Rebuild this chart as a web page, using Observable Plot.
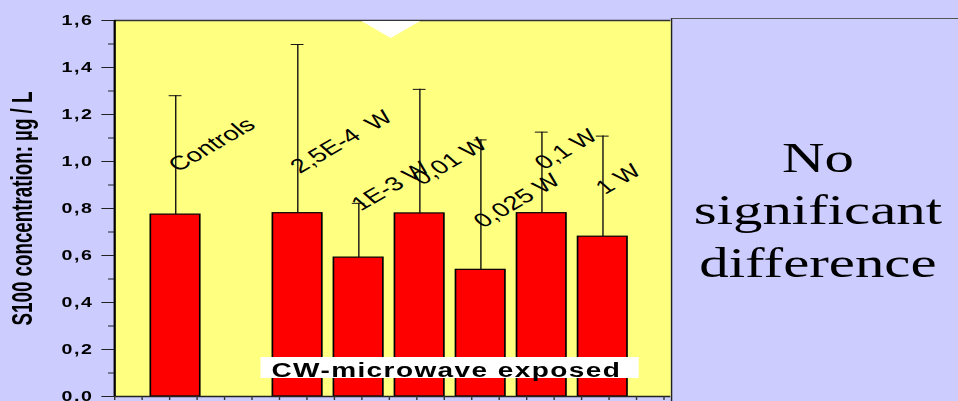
<!DOCTYPE html>
<html><head><meta charset="utf-8">
<script src="https://cdn.jsdelivr.net/npm/d3@7"></script>
<script src="https://cdn.jsdelivr.net/npm/@observablehq/plot@0.6"></script>
<style>
html,body{margin:0;padding:0;background:#ccccff;overflow:hidden;width:958px;height:401px;}
#wrap{position:relative;width:684px;height:401px;overflow:hidden;transform:scaleX(1.40058);transform-origin:0 0;font-family:Arial,"Liberation Sans",sans-serif;}
#chart{position:absolute;left:0;top:0;}
#tri{position:absolute;left:257.5px;top:21px;width:0;height:0;border-left:21.5px solid transparent;border-right:21.5px solid transparent;border-top:17px solid #fff;}
#expBox{position:absolute;left:185.7px;top:357px;width:270px;height:21px;background:#fff;}
#expText{position:absolute;left:185.7px;top:360px;width:266px;text-align:center;font-weight:bold;font-size:20px;line-height:20px;letter-spacing:1px;color:#000;white-space:nowrap;}
#panel{position:absolute;left:478.6px;top:18px;width:230px;height:400px;border-left:1.5px solid #222;border-top:1px solid #555;background:#ccccff;box-sizing:border-box;}
#panelText{position:absolute;left:484px;top:131.5px;width:200px;text-align:center;font-family:"Times New Roman","Liberation Serif",serif;font-size:42px;line-height:52.5px;color:#000;}
</style></head>
<body>
<div id="wrap">
  <div id="chart"></div>
  <div id="tri"></div>
  <div id="expBox"></div>
  <div id="expText">CW-microwave exposed</div>
  <div id="panel"></div>
  <div id="panelText">No<br>significant<br>difference</div>
</div>
<script>
// ---- data ----
const categories = ["Controls", "2,5E-4\u00a0\u00a0W", "1E-3 W", "0,01 W", "0,025 W", "0,1 W", "1 W"];
const positions  = [1, 3, 4, 5, 6, 7, 8];
const means      = [0.774, 0.780, 0.591, 0.779, 0.539, 0.780, 0.680];
const upperErr   = [1.280, 1.498, 0.822, 1.307, 1.092, 1.125, 1.108];
const labelY     = [0.966, 0.960, 0.800, 0.910, 0.728, 0.976, 0.870];
const yTicks     = [0, 0.2, 0.4, 0.6, 0.8, 1.0, 1.2, 1.4, 1.6];
const yMinorTicks= [0.1, 0.3, 0.5, 0.7, 0.9, 1.1, 1.3, 1.5];
const yLabel     = "S100 concentration: \u00b5g / L";

const data = categories.map((name, i) => ({name, pos: positions[i], mean: means[i], upper: upperErr[i], ly: labelY[i]}));
const xTicks = d3.range(0, 9.1, 0.45);
const fmt = d => d.toFixed(1).replace(".", ",");

const W = 684, H = 401;
const chart = Plot.plot({
  width: W, height: H,
  marginLeft: 81.4, marginRight: W - 478.6, marginTop: 20, marginBottom: 5,
  style: {background: "transparent", fontFamily: "Arial, 'Liberation Sans', sans-serif", color: "#000"},
  x: {type: "linear", domain: [0, 9.115], axis: null},
  y: {domain: [0, 1.6], axis: null},
  marks: [
    Plot.frame({fill: "#ffff80", stroke: "none"}),
    Plot.rectY(data, {x1: d => d.pos - 0.405, x2: d => d.pos + 0.405, y: "mean", fill: "#ff0000", stroke: "#000", strokeWidth: 1.2}),
    Plot.ruleX(data, {x: "pos", y1: "mean", y2: "upper", stroke: "#111", strokeWidth: 1}),
    Plot.ruleY(data, {y: "upper", x1: d => d.pos - 0.105, x2: d => d.pos + 0.105, stroke: "#111", strokeWidth: 1}),
    Plot.text(data, {x: d => d.pos - 0.07, y: "ly", dx: 4.5, dy: 3, text: "name", rotate: -39, textAnchor: "start", lineAnchor: "bottom", fontSize: 19.5, fill: "#000"}),
    Plot.ruleY([1.6], {stroke: "#333", strokeWidth: 1.5}),
    Plot.ruleY([0], {stroke: "#222", strokeWidth: 1.5}),
    Plot.ruleX([0], {stroke: "#000", strokeWidth: 1.6}),
    Plot.axisY({ticks: yTicks, tickSize: 9, tickPadding: 6, tickFormat: fmt, fontSize: 14, fontWeight: "bold", label: null, stroke: "#222"}),
    Plot.axisY({ticks: yMinorTicks, tickSize: 4.3, fill: "none", tickFormat: () => "", label: null, stroke: "#222"}),
    Plot.axisX({ticks: xTicks, tickSize: 4, tickFormat: () => "", fill: "none", label: null, stroke: "#333"}),
    Plot.text([yLabel], {frameAnchor: "left", dx: -65.5, rotate: -90, textAnchor: "middle", lineAnchor: "middle", fontSize: 21, fontWeight: "bold", fill: "#000"})
  ]
});
d3.select(chart).selectAll('g[aria-label="y-axis tick label"] text').style("letter-spacing", "1.2px");
d3.select(chart).selectAll("text").filter(function () { return this.textContent === yLabel; })
  .attr("textLength", 234).attr("lengthAdjust", "spacingAndGlyphs");
document.getElementById("chart").appendChild(chart);
</script>
</body></html>
